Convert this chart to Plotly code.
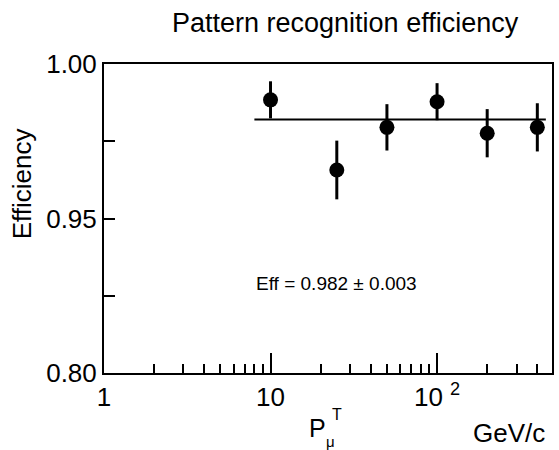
import plotly.graph_objects as go
import numpy as np

# Data
pt = [10, 25, 50, 100, 200, 400]
eff = [0.9884, 0.9657, 0.9795, 0.9878, 0.9776, 0.9795]
err = [0.0060, 0.0095, 0.0075, 0.0060, 0.0078, 0.0078]
fit_x = [8, 450]
fit_val = 0.982
fit_label = "Eff = 0.982 ± 0.003"

# y axis: broken scale; lower half displayed compressed (0.80 shown at the 0.90 position)
y_tickvals = [0.90, 0.95, 1.00]
y_ticktext = ["0.80", "0.95", "1.00"]
y_minor = [0.925, 0.975]
x_tickvals = [1, 10, 100]
x_ticktext = ["1", "10", "10 <sup>2</sup>"]
x_minor = [2, 3, 4, 5, 6, 7, 8, 9, 20, 30, 40, 50, 60, 70, 80, 90, 200, 300, 400]

FONT = "Liberation Sans, Arial, Helvetica, sans-serif"
W, H = 559, 450
L, R, T, B = 104, 5, 64, 77

fig = go.Figure()
fig.add_trace(go.Scatter(
    x=fit_x, y=[fit_val, fit_val], mode="lines",
    line=dict(color="black", width=2), showlegend=False, hoverinfo="skip"))
fig.add_trace(go.Scatter(
    x=pt, y=eff, mode="markers",
    marker=dict(color="black", size=15),
    error_y=dict(type="data", array=err, color="black", thickness=3, width=0),
    showlegend=False))

fig.update_layout(
    width=W, height=H,
    margin=dict(l=L, r=R, t=T, b=B),
    paper_bgcolor="white", plot_bgcolor="white",
    font=dict(family=FONT, color="black", size=26),
    xaxis=dict(
        type="log", range=[0, np.log10(490)],
        tickvals=x_tickvals, ticktext=x_ticktext,
        ticks="inside", ticklen=20, tickwidth=2, tickcolor="black",
        minor=dict(tickvals=x_minor, ticks="inside", ticklen=9, tickwidth=1.5, tickcolor="black"),
        showline=True, linecolor="black", linewidth=2, mirror=True,
        showgrid=False, zeroline=False,
        tickfont=dict(size=26),
    ),
    yaxis=dict(
        range=[0.90, 1.00],
        tickvals=y_tickvals, ticktext=y_ticktext,
        ticks="inside", ticklen=11, tickwidth=1.5, tickcolor="black",
        minor=dict(tickvals=y_minor, ticks="inside", ticklen=11, tickwidth=1.5, tickcolor="black"),
        showline=True, linecolor="black", linewidth=2, mirror=True,
        showgrid=False, zeroline=False,
        tickfont=dict(size=26),
    ),
)

pw, ph = W - L - R, H - T - B
annotations = [
    ("Pattern recognition efficiency", 347, 23, 27, 0),
    ("Efficiency", 22, 184, 26, -90),
    (fit_label, 338, 283, 19, 0),
    ("P", 318, 428, 25, 0),
    ("μ", 332, 441, 15, 0),
    ("T", 338, 414, 16, 0),
    ("GeV/c", 511, 433, 26, 0),
]
for text, px, py, size, ang in annotations:
    fig.add_annotation(
        text=text, x=(px - L) / pw, y=(H - B - py) / ph,
        xref="paper", yref="paper", xanchor="center", yanchor="middle",
        showarrow=False, textangle=ang,
        font=dict(family=FONT, color="black", size=size))

fig.write_html("out.html", config={"displayModeBar": False},
               post_script="document.body.style.margin='0';document.body.style.overflow='hidden';")
